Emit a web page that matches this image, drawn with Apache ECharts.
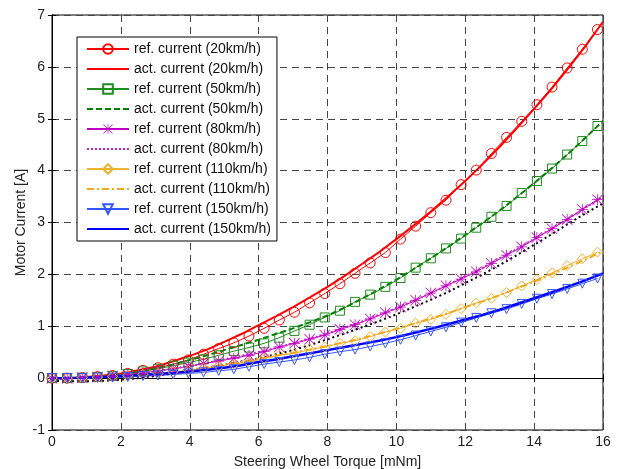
<!DOCTYPE html>
<html>
<head>
<meta charset="utf-8">
<script src="https://cdn.jsdelivr.net/npm/echarts@6/dist/echarts.min.js"></script>
<style>
  html, body { margin: 0; padding: 0; background: #fff; }
  #main { width: 623px; height: 469px; }
</style>
</head>
<body>
<div id="main"></div>
<script>
// torque positions of the ref markers and of the measured lines
var xRef = [0, 0.44, 0.88, 1.32, 1.76, 2.2, 2.64, 3.08, 3.52, 3.96, 4.4, 4.84, 5.28, 5.72, 6.16, 6.6, 7.04, 7.48, 7.92, 8.36,
  8.8, 9.24, 9.68, 10.12, 10.56, 11, 11.44, 11.88, 12.32, 12.76, 13.2, 13.64, 14.08, 14.52, 14.96, 15.4, 15.84];
var xAct = [0, 0.5, 1, 1.5, 2, 2.5, 3, 3.5, 4, 4.5, 5, 5.5, 6, 6.5, 7, 7.5, 8, 8.5, 9, 9.5,
  10, 10.5, 11, 11.5, 12, 12.5, 13, 13.5, 14, 14.5, 15, 15.5, 16];

var ref20 = [0, 0, 0.01, 0.03, 0.05, 0.09, 0.15, 0.2, 0.27, 0.35, 0.46, 0.57, 0.68, 0.81, 0.96, 1.12, 1.27, 1.45, 1.63, 1.82,
  2.02, 2.22, 2.42, 2.68, 2.93, 3.19, 3.43, 3.73, 4.01, 4.33, 4.64, 4.95, 5.27, 5.61, 5.98, 6.34, 6.72];
var ref50 = [0, 0, 0.01, 0.02, 0.04, 0.08, 0.13, 0.18, 0.24, 0.3, 0.36, 0.44, 0.52, 0.59, 0.67, 0.78, 0.91, 1.03, 1.17, 1.3,
  1.47, 1.61, 1.76, 1.93, 2.13, 2.31, 2.5, 2.69, 2.9, 3.11, 3.32, 3.57, 3.8, 4.04, 4.31, 4.57, 4.86];
var ref80 = [0, 0, 0.01, 0.02, 0.04, 0.07, 0.1, 0.14, 0.18, 0.23, 0.28, 0.33, 0.38, 0.44, 0.51, 0.6, 0.67, 0.75, 0.83, 0.94,
  1.03, 1.14, 1.26, 1.37, 1.5, 1.64, 1.78, 1.91, 2.05, 2.21, 2.37, 2.53, 2.71, 2.88, 3.06, 3.25, 3.44];
var ref110 = [0, 0, 0.01, 0.02, 0.03, 0.05, 0.07, 0.09, 0.12, 0.15, 0.19, 0.23, 0.27, 0.31, 0.38, 0.44, 0.48, 0.55, 0.6, 0.67,
  0.72, 0.8, 0.89, 0.96, 1.06, 1.13, 1.23, 1.34, 1.45, 1.54, 1.65, 1.78, 1.9, 2.03, 2.17, 2.3, 2.43];
var ref150 = [0, 0, 0, 0.01, 0.01, 0.02, 0.04, 0.05, 0.07, 0.09, 0.11, 0.14, 0.17, 0.22, 0.27, 0.31, 0.35, 0.4, 0.46, 0.51,
  0.55, 0.61, 0.67, 0.74, 0.82, 0.9, 0.98, 1.07, 1.16, 1.25, 1.33, 1.43, 1.53, 1.62, 1.72, 1.82, 1.92];

var act20 = [0, 0, 0.02, 0.05, 0.09, 0.15, 0.22, 0.32, 0.43, 0.55, 0.7, 0.85, 1.02, 1.19, 1.37, 1.56, 1.76, 1.97, 2.2, 2.43,
  2.68, 2.94, 3.21, 3.5, 3.8, 4.12, 4.46, 4.82, 5.19, 5.57, 5.98, 6.41, 6.87];
var act50 = [0, 0, 0.01, 0.03, 0.07, 0.12, 0.19, 0.26, 0.35, 0.44, 0.54, 0.64, 0.74, 0.85, 0.96, 1.08, 1.21, 1.36, 1.53, 1.71,
  1.9, 2.1, 2.31, 2.53, 2.76, 2.99, 3.23, 3.49, 3.76, 4.04, 4.33, 4.64, 4.96];
var act80 = [0, 0, 0.01, 0.03, 0.06, 0.09, 0.13, 0.18, 0.23, 0.29, 0.36, 0.43, 0.5, 0.58, 0.67, 0.76, 0.86, 0.97, 1.09, 1.22,
  1.35, 1.49, 1.64, 1.8, 1.96, 2.13, 2.31, 2.49, 2.68, 2.88, 3.08, 3.29, 3.5];
var act80b = [-0.05, -0.06, -0.06, -0.05, -0.03, 0, 0.04, 0.09, 0.14, 0.2, 0.26, 0.32, 0.38, 0.46, 0.54, 0.64, 0.75, 0.86, 0.98, 1.1,
  1.23, 1.37, 1.51, 1.66, 1.83, 2, 2.18, 2.37, 2.57, 2.77, 2.98, 3.18, 3.37];
var act110 = [0, 0, 0.01, 0.02, 0.04, 0.06, 0.09, 0.12, 0.16, 0.21, 0.26, 0.31, 0.37, 0.43, 0.49, 0.55, 0.62, 0.69, 0.77, 0.86,
  0.95, 1.05, 1.15, 1.25, 1.37, 1.48, 1.6, 1.73, 1.86, 2, 2.14, 2.29, 2.45];
var act150 = [0, 0, 0.01, 0.02, 0.04, 0.06, 0.08, 0.1, 0.13, 0.16, 0.2, 0.25, 0.31, 0.36, 0.42, 0.48, 0.54, 0.6, 0.66, 0.72,
  0.79, 0.87, 0.95, 1.04, 1.13, 1.22, 1.32, 1.43, 1.54, 1.65, 1.77, 1.89, 2.02];

var names = ['ref. current (20km/h)', 'act. current (20km/h)', 'ref. current (50km/h)', 'act. current (50km/h)',
  'ref. current (80km/h)', 'act. current (80km/h)', 'ref. current (110km/h)', 'act. current (110km/h)',
  'ref. current (150km/h)', 'act. current (150km/h)'];

var starPath = 'path://M9.3,0h1.4v20h-1.4z M0,9.3h20v1.4h-20z M1,0L20,19L19,20L0,1z M19,0L20,1L1,20L0,19z';

function pairs(xs, ys) {
  return xs.map(function (x, i) { return [x, ys[i]]; });
}

function refSeries(name, ys, color, symbol, size, rotate) {
  return {
    name: name, type: 'line', data: pairs(xRef, ys),
    symbol: symbol, symbolSize: size, symbolRotate: rotate || 0,
    lineStyle: { color: color, width: 1 },
    itemStyle: { color: 'rgba(255,255,255,0)', borderColor: color, borderWidth: 1 },
    animation: false
  };
}

function actSeries(name, ys, color, type, width) {
  return {
    name: name, type: 'line', data: pairs(xAct, ys), symbol: 'none',
    lineStyle: { color: color, width: width, type: type },
    itemStyle: { color: color },
    animation: false
  };
}

var starRef = refSeries(names[4], ref80, '#c000c0', starPath, 11);
starRef.itemStyle = { color: '#c000c0', borderWidth: 0 };

var series = [
  refSeries(names[0], ref20, '#ff0000', 'circle', 10),
  actSeries(names[1], act20, '#ff0000', 'solid', 2),
  refSeries(names[2], ref50, '#1e8c1e', 'rect', 9),
  actSeries(names[3], act50, '#008000', [6, 3], 2),
  actSeries('', act80b, '#000000', [2, 3], 2),
  starRef,
  actSeries(names[5], act80, '#d020d0', [2, 2], 2),
  refSeries(names[6], ref110, '#f0b030', 'diamond', 10),
  actSeries(names[7], act110, '#f0a818', [7, 3, 2, 3], 2),
  refSeries(names[8], ref150, '#3355ff', 'triangle', 9, 180),
  actSeries(names[9], act150, '#0000ff', 'solid', 2.5)
];

// legend entries: act lines show only the line, no marker
var legendData = names.map(function (n, i) {
  return i % 2 === 1 ? { name: n, itemStyle: { opacity: 0 } } : { name: n };
});

var myChart = echarts.init(document.getElementById('main'));

var labelFont = { fontFamily: 'Liberation Sans', fontSize: 14, color: '#222' };

var option = {
  animation: false,
  grid: {
    left: 52, right: 20, top: 15, bottom: 39, show: true, borderColor: '#000', borderWidth: 1,
    outerBoundsMode: 'none'
  },
  legend: {
    data: legendData, orient: 'vertical', left: 77, top: 37,
    padding: [5, 6, 5, 9],
    itemWidth: 42, itemHeight: 12, itemGap: 6,
    backgroundColor: '#fff', borderColor: '#000', borderWidth: 1,
    textStyle: { fontFamily: 'Liberation Sans', fontSize: 14, color: '#111', lineHeight: 14 }
  },
  xAxis: [{
    type: 'value', min: 0, max: 16, interval: 2,
    name: 'Steering Wheel Torque [mNm]', nameLocation: 'middle', nameGap: 25,
    nameMoveOverlap: false,
    nameTextStyle: labelFont,
    axisLine: { lineStyle: { color: '#000' } },
    axisTick: { inside: true, length: 4, lineStyle: { color: '#000' } },
    axisLabel: Object.assign({ margin: 5 }, labelFont),
    splitLine: { show: true, lineStyle: { color: '#444', type: [7, 5], width: 1 } }
  }, {
    type: 'value', min: 0, max: 16, interval: 2, position: 'top',
    axisLine: { lineStyle: { color: '#000' } },
    axisTick: { inside: true, length: 4, lineStyle: { color: '#000' } },
    axisLabel: { show: false }, splitLine: { show: false }
  }],
  yAxis: [{
    type: 'value', min: -1, max: 7, interval: 1,
    name: 'Motor Current [A]', nameLocation: 'middle', nameGap: 24,
    nameMoveOverlap: false,
    nameTextStyle: labelFont,
    axisLine: { lineStyle: { color: '#000' } },
    axisTick: { inside: true, length: 4, lineStyle: { color: '#000' } },
    axisLabel: Object.assign({ margin: 7 }, labelFont),
    splitLine: { show: true, lineStyle: { color: '#444', type: [7, 5], width: 1 } }
  }, {
    type: 'value', min: -1, max: 7, interval: 1, position: 'right',
    axisLine: { lineStyle: { color: '#000' } },
    axisTick: { inside: true, length: 4, lineStyle: { color: '#000' } },
    axisLabel: { show: false }, splitLine: { show: false }
  }],
  series: series
};

myChart.setOption(option);
</script>
</body>
</html>
